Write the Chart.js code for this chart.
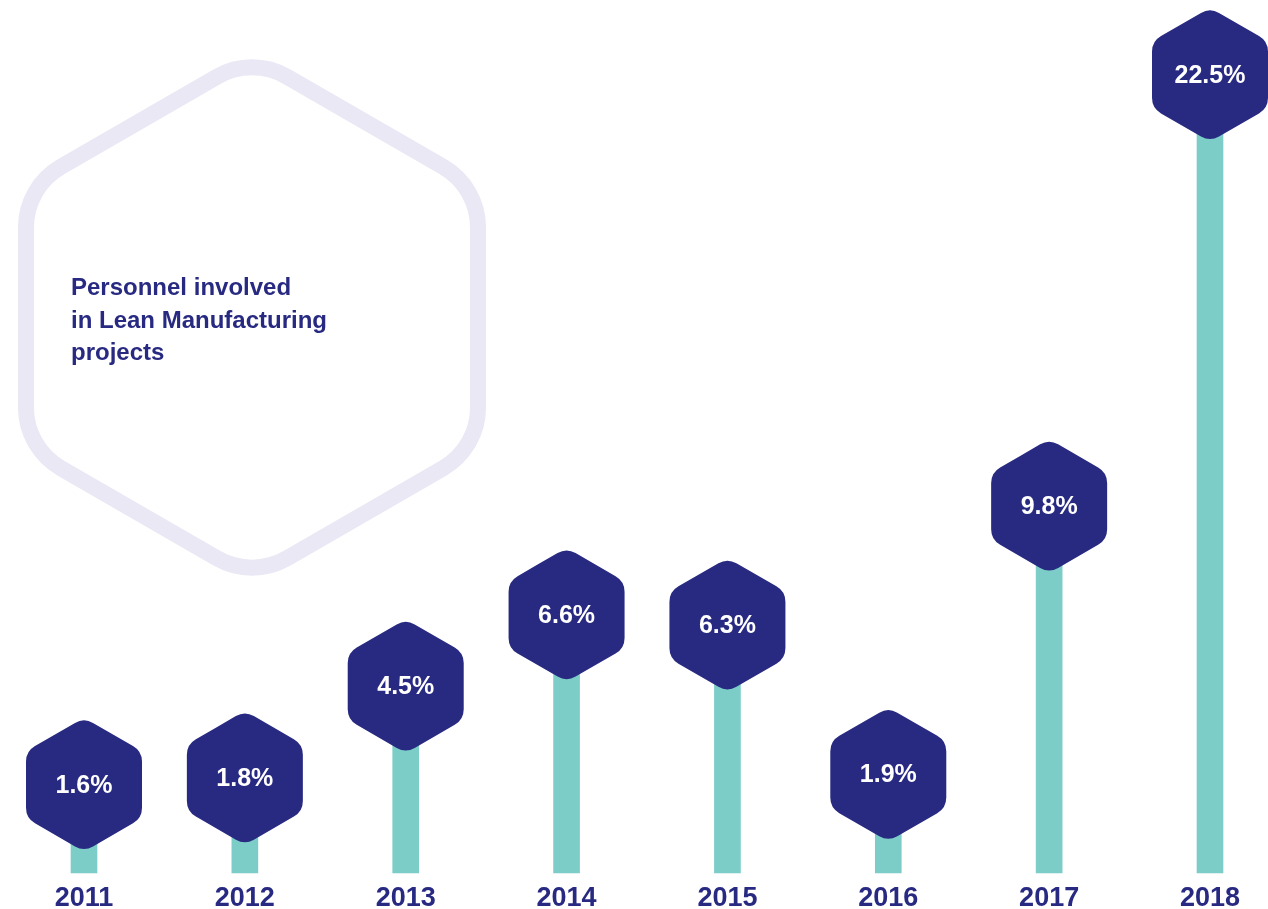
<!DOCTYPE html>
<html>
<head>
<meta charset="utf-8">
<script src="https://cdn.jsdelivr.net/npm/chart.js@4"></script>
<style>
  html, body { margin: 0; padding: 0; background: #ffffff; }
  #wrap { width: 1268px; height: 909px; position: relative; }
</style>
</head>
<body>
<div id="wrap"><canvas id="chart"></canvas></div>
<script>
// data
const years = ["2011", "2012", "2013", "2014", "2015", "2016", "2017", "2018"];
const shares = [1.6, 1.8, 4.5, 6.6, 6.3, 1.9, 9.8, 22.5];
const titleLines = ["Personnel involved", "in Lean Manufacturing", "projects"];

// colours
const navy = "#282a82";
const teal = "#7ccdc8";
const lavender = "#e9e8f4";
const fontFamily = "'Liberation Sans', Arial, sans-serif";

// rounded pointy-top hexagon
function hexPath(ctx, cx, cy, R, r) {
    const pts = [];
    for (let i = 0; i < 6; i++) {
        const a = Math.PI / 180 * (60 * i - 90);
        pts.push([cx + R * Math.cos(a), cy + R * Math.sin(a)]);
    }
    ctx.beginPath();
    ctx.moveTo((pts[5][0] + pts[0][0]) / 2, (pts[5][1] + pts[0][1]) / 2);
    for (let i = 0; i < 6; i++) {
        const p = pts[i];
        const n = pts[(i + 1) % 6];
        ctx.arcTo(p[0], p[1], n[0], n[1], r);
    }
    ctx.closePath();
}

// big outlined hexagon with the caption, behind the bars
const captionPlugin = {
    id: "caption",
    beforeDatasetsDraw(chart) {
        const ctx = chart.ctx;
        ctx.save();
        hexPath(ctx, 252, 317.5, 261, 70);
        ctx.lineWidth = 16;
        ctx.strokeStyle = lavender;
        ctx.stroke();

        ctx.fillStyle = navy;
        ctx.font = "bold 24px " + fontFamily;
        ctx.textAlign = "left";
        ctx.textBaseline = "alphabetic";
        titleLines.forEach((line, i) => {
            ctx.fillText(line, 71, 295 + i * 32.5);
        });
        ctx.restore();
    }
};

// hexagon badges at the top of each bar
const badgePlugin = {
    id: "badges",
    afterDatasetsDraw(chart) {
        const ctx = chart.ctx;
        const meta = chart.getDatasetMeta(0);
        ctx.save();
        meta.data.forEach((bar, i) => {
            hexPath(ctx, bar.x, bar.y, 116 / Math.sqrt(3), 18);
            ctx.fillStyle = navy;
            ctx.fill();

            ctx.fillStyle = "#ffffff";
            ctx.font = "bold 25px " + fontFamily;
            ctx.textAlign = "center";
            ctx.textBaseline = "middle";
            ctx.fillText(shares[i].toFixed(1) + "%", bar.x, bar.y + 1);
        });
        ctx.restore();
    }
};

const ctx = document.getElementById("chart").getContext("2d");

new Chart(ctx, {
    type: "bar",
    data: {
        labels: years,
        datasets: [{
            data: shares,
            base: -1,
            backgroundColor: teal,
            barThickness: 26,
            borderWidth: 0,
            clip: false
        }]
    },
    options: {
        responsive: true,
        maintainAspectRatio: false,
        animation: false,
        layout: {
            padding: { left: 84, right: 58, top: 0, bottom: -15 }
        },
        plugins: {
            legend: { display: false },
            tooltip: { enabled: false }
        },
        scales: {
            x: {
                offset: false,
                grid: { display: false, drawTicks: false },
                border: { display: false },
                ticks: {
                    color: navy,
                    padding: 12,
                    maxRotation: 0,
                    autoSkip: false,
                    font: { family: fontFamily, size: 27, weight: "bold", lineHeight: 1 }
                }
            },
            y: {
                display: false,
                min: -1,
                max: 24.7
            }
        }
    },
    plugins: [captionPlugin, badgePlugin]
});
</script>
</body>
</html>
